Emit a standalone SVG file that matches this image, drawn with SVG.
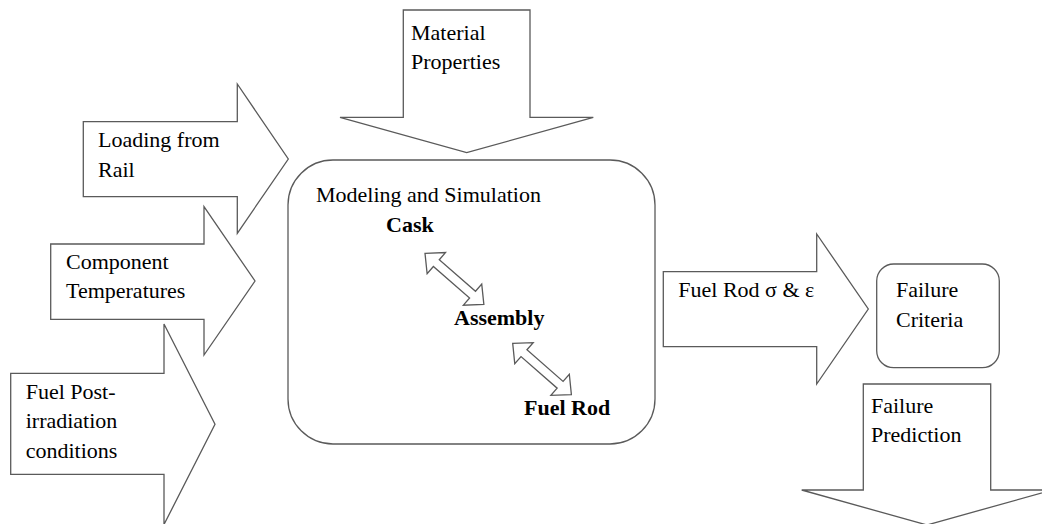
<svg xmlns="http://www.w3.org/2000/svg" width="1042" height="524" viewBox="0 0 1042 524">
<style>
.s{fill:#fff;stroke:#5a5a5a;stroke-width:1.3;stroke-linejoin:miter}
.t{font-family:"Liberation Serif","Times New Roman",serif;font-size:22px;fill:#000}
.b{font-weight:bold}
</style>
<defs>
<path id="dbl" d="M0,0 L15,-14 L15,-4.5 L63,-4.5 L63,-14 L78,0 L63,14 L63,4.5 L15,4.5 L15,14 Z"/>
</defs>
<rect width="1042" height="524" fill="#fff"/>
<g id="material">
<path class="s" d="M403.3,10 L530,10 L530,117.3 L593.3,117.3 L466.7,152.7 L340,117.3 L403.3,117.3 Z"/>
<text class="t" x="411" y="39.5">Material</text>
<text class="t" x="411" y="69">Properties</text>
</g>
<g id="loading">
<path class="s" d="M83.3,121.7 L237.3,121.7 L237.3,84 L288.3,159 L237.3,233.3 L237.3,196.7 L83.3,196.7 Z"/>
<text class="t" x="98" y="146.7">Loading from</text>
<text class="t" x="98" y="176.7">Rail</text>
</g>
<g id="component">
<path class="s" d="M50.7,244 L204,244 L204,206.7 L255,281 L204,355 L204,319.3 L50.7,319.3 Z"/>
<text class="t" x="66" y="269.3">Component</text>
<text class="t" x="66" y="298.3">Temperatures</text>
</g>
<g id="fuelpost">
<path class="s" d="M10.7,373.3 L164,373.3 L164,324 L215,424.3 L164,524.5 L164,474.3 L10.7,474.3 Z"/>
<text class="t" x="25.7" y="399.3">Fuel Post-</text>
<text class="t" x="25.7" y="428.3">irradiation</text>
<text class="t" x="25.7" y="458.3">conditions</text>
</g>
<g id="modeling">
<rect class="s" x="288" y="160" width="367" height="284" rx="45" ry="45"/>
<text class="t" x="316" y="202">Modeling and Simulation</text>
<text class="t b" x="386" y="232">Cask</text>
<text class="t b" x="454" y="325">Assembly</text>
<text class="t b" x="524" y="415">Fuel Rod</text>
</g>
<g id="connectors">
<use href="#dbl" class="s" transform="translate(425,253.3) rotate(41)"/>
<use href="#dbl" class="s" transform="translate(512.7,343.3) rotate(41.2)"/>
</g>
<g id="fuelrod-out">
<path class="s" d="M663.3,271.7 L816.7,271.7 L816.7,234 L868.3,309 L816.7,384 L816.7,346.7 L663.3,346.7 Z"/>
<text class="t" x="678.3" y="297.3">Fuel Rod σ &amp; ε</text>
</g>
<g id="criteria">
<rect class="s" x="876.7" y="264" width="122.6" height="103.7" rx="17" ry="17"/>
<text class="t" x="896" y="297.3">Failure</text>
<text class="t" x="896" y="326.7">Criteria</text>
</g>
<g id="prediction">
<path class="s" d="M863.3,384 L990.7,384 L990.7,490 L1052.3,490 L927,525 L801.7,490 L863.3,490 Z"/>
<text class="t" x="871" y="412.7">Failure</text>
<text class="t" x="871" y="441.7">Prediction</text>
</g>
</svg>
